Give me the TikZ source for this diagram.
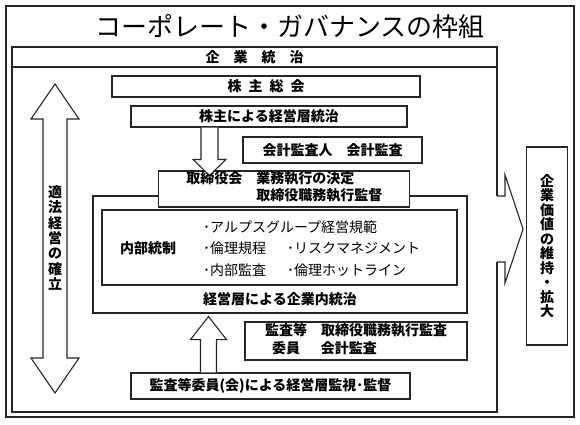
\documentclass[tikz,border=0pt]{standalone}
\usepackage{fontspec}
\setmainfont{Noto Sans CJK JP}
\usetikzlibrary{calc}

\tikzset{
    frame/.style={draw=black!85, line width=1.1pt},
    box/.style={draw=black!85, line width=1.1pt, fill=white, inner sep=0pt,
        font=\bfseries\fontsize{14}{17}\selectfont},
    lbl/.style={inner sep=0pt, font=\bfseries\fontsize{14}{17}\selectfont},
    item/.style={inner sep=0pt, anchor=west, font=\fontsize{14}{16}\selectfont},
    blk/.style={draw=black!85, line width=1.1pt, fill=white, line join=miter},
}

\begin{document}
\begin{tikzpicture}[x=1pt,y=-1pt]
    \useasboundingbox (0,0) rectangle (580,424);

    % outer frame and title
    \draw[frame] (6,6) rectangle (574,417);
    \node[inner sep=0pt, font=\fontsize{26}{28}\selectfont] (title) at (290,27) {コーポレート・ガバナンスの枠組};

    % inner frame
    \draw[frame] (12,47) rectangle (497,412);
    \draw[frame] (12,67) -- (497,67);
    \node[lbl] (kigyou) at (254.5,57) {企　業　統　治};

    % shareholders
    \node[box, minimum width=308, minimum height=21] (soukai) at (266,86.5) {株\enspace 主\enspace 総\enspace 会};
    \node[box, minimum width=276, minimum height=21] (kabunushi) at (269,116.5) {株主による経営層統治};
    \node[box, minimum width=179, minimum height=26] (kaikei) at (332.5,150) {会計監査人　会計監査};

    % management
    \node[box, minimum width=374, minimum height=117] (keiei) at (280,254.5) {};
    \node[lbl] (keieilbl) at (280,299) {経営層による企業内統治};
    \node[box, minimum width=251, minimum height=36] (torishimari) at (284.3,189)
        {\begin{tabular}{@{}l@{\hspace{14pt}}l@{}}取締役会 & 業務執行の決定\\ & 取締役職務執行監督\end{tabular}};

    \node[box, minimum width=355, minimum height=75] (naibu) at (279.5,247.5) {};
    \node[lbl] (naibulbl) at (148,248) {内部統制};
    \node[item] (kihan) at (203,227) {･アルプスグループ経営規範};
    \node[item] (rinri) at (203,248) {･倫理規程};
    \node[item] (risk) at (287,248) {･リスクマネジメント};
    \node[item] (kansabu) at (203,270) {･内部監査};
    \node[item] (hotline) at (287,270) {･倫理ホットライン};

    % audit committee
    \node[box, minimum width=222, minimum height=38] (iin) at (356,341)
        {\begin{tabular}{@{}c@{\hspace{14pt}}l@{}}監査等 & 取締役職務執行監査\\ 委員 & 会計監査\end{tabular}};
    \node[box, minimum width=279, minimum height=26] (kanshi) at (270.5,386) {監査等委員(会)による経営層監視･監督};

    % down arrow
    \coordinate (dnA) at (209.5,0 |- kabunushi.south);
    \coordinate (dnB) at ($(209.5,0 |- torishimari.north)+(0,5)$);
    \draw[blk] ($(dnA)+(-8.5,0)$) -- ($(dnB)+(-8.5,-16)$) -- ($(dnB)+(-16.5,-16)$) -- (dnB)
        -- ($(dnB)+(16.5,-16)$) -- ($(dnB)+(8.5,-16)$) -- ($(dnA)+(8.5,0)$);

    % up arrow
    \coordinate (upA) at (208.5,0 |- kanshi.north);
    \coordinate (upB) at ($(208.5,0 |- keiei.south)+(0,3)$);
    \draw[blk] ($(upA)+(-8,0)$) -- ($(upB)+(-8,23)$) -- ($(upB)+(-18,23)$) -- (upB)
        -- ($(upB)+(18,23)$) -- ($(upB)+(8,23)$) -- ($(upA)+(8,0)$);

    % left double arrow
    \coordinate (tekiA) at (55,84);
    \coordinate (tekiB) at (55,393);
    \draw[blk] (tekiA) -- ($(tekiA)+(24,35)$) -- ($(tekiA)+(12,35)$) -- ($(tekiB)+(12,-35)$)
        -- ($(tekiB)+(24,-35)$) -- (tekiB) -- ($(tekiB)+(-24,-35)$) -- ($(tekiB)+(-12,-35)$)
        -- ($(tekiA)+(-12,35)$) -- ($(tekiA)+(-24,35)$) -- cycle;
    \node[lbl, align=center, font=\bfseries\fontsize{14}{15.3}\selectfont] (tekihou) at (55,238)
        {適\\法\\経\\営\\の\\確\\立};

    % corporate value
    \node[box, minimum width=41, minimum height=198, align=center,
        font=\bfseries\fontsize{14}{14.5}\selectfont] (kachi) at (547,246)
        {企\\業\\価\\値\\の\\維\\持\\・\\拡\\大};
    \coordinate (rtA) at (497,229);
    \coordinate (rtB) at (523,229);
    \fill[white] ($(rtA)+(-1.5,-33)$) rectangle ($(rtA)+(8,33)$);
    \draw[blk, fill=none] ($(rtA)+(0,-33)$) -- ($(rtA)+(8,-33)$) -- ($(rtA)+(8,-54)$) -- (rtB)
        -- ($(rtA)+(8,54)$) -- ($(rtA)+(8,33)$) -- ($(rtA)+(0,33)$);

\end{tikzpicture}
\end{document}
